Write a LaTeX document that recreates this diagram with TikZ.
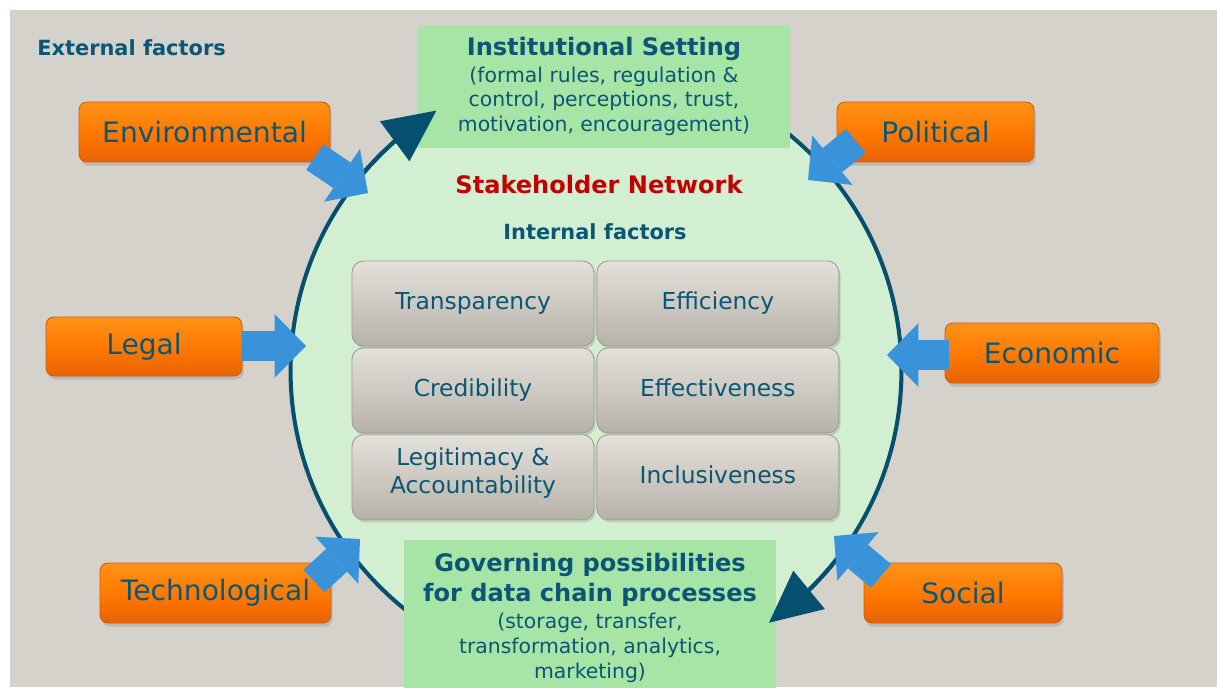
\documentclass[tikz,border=0pt]{standalone}
\usepackage{fontspec}
\setmainfont{DejaVu Sans}
\usetikzlibrary{positioning,shadows,arrows.meta,bending}

\definecolor{slate}{HTML}{D5D2CB}
\definecolor{ink}{HTML}{0C5675}
\definecolor{ring}{HTML}{05506F}
\definecolor{mint}{HTML}{D3EFD2}
\definecolor{leaf}{HTML}{A7E5A6}
\definecolor{tangerineTop}{HTML}{FF9318}
\definecolor{tangerineMid}{HTML}{FF7A00}
\definecolor{tangerineBot}{HTML}{E86204}
\definecolor{tangerineRim}{HTML}{CC5E0C}
\definecolor{stoneTop}{HTML}{E4E1DA}
\definecolor{stoneBot}{HTML}{B6B2AA}
\definecolor{stoneRim}{HTML}{A19D95}
\definecolor{sky}{HTML}{3893DA}
\definecolor{crimson}{HTML}{C00000}

\begin{document}
\begin{tikzpicture}
[x=0.02cm,y=-0.02cm,
factor/.style={rounded corners=4.5pt,top color=tangerineTop,bottom color=tangerineBot,middle color=tangerineMid,
  draw=tangerineRim,line width=.5pt,text=ink,font=\fontsize{16}{19}\selectfont,minimum height=1.2cm,
  drop shadow={shadow xshift=1pt,shadow yshift=-2pt,opacity=.3}},
inner/.style={rounded corners=6.5pt,top color=stoneTop,bottom color=stoneBot,draw=stoneRim,line width=.5pt,
  text=ink,font=\fontsize{13.3}{15.9}\selectfont,align=center,minimum width=4.84cm,minimum height=1.7cm,
  text height=.7em,text depth=0em,
  drop shadow={shadow xshift=1pt,shadow yshift=-1.5pt,opacity=.3}},
setting/.style={fill=leaf,text=ink,align=center,minimum width=7.44cm,font=\fontsize{11.6}{14.1}\selectfont},
title/.style={font=\bfseries\fontsize{11.9}{14}\selectfont,text=ink,inner sep=0pt},
push/.style={draw=sky,line width=17.6pt,-{Triangle[length=17.9pt,width=36.3pt,line width=0pt]}},
turn/.style={draw=ring,line width=2.3pt,-{Triangle[length=29.5pt,width=28.3pt,line width=0pt,flex]}}]
\useasboundingbox (0,0) rectangle (1217,687);
\fill[slate] (10,10) rectangle (1217,687);
\node (external) [title,anchor=base west] at (37,55) {External factors};
%% stakeholder network
\node (network) [circle,fill=mint,draw=ring,line width=2.3pt,outer sep=0pt,minimum size=12.22cm] at (596,371) {};
\node (stakeholder) [anchor=base,text=crimson,font=\bfseries\fontsize{13.7}{16}\selectfont] at (599,193) {Stakeholder Network};
\node (internal) [title,anchor=base] at (595,239) {Internal factors};
%% internal factors
\node (transparency) [inner] at (473,303.5) {Transparency};
\node (efficiency) [inner,right=0.04cm of transparency] {Efficiency};
\node (credibility) [inner,below=0.02cm of transparency] {Credibility};
\node (effectiveness) [inner,below=0.02cm of efficiency] {Effectiveness};
\node (legitimacy) [inner,below=0.02cm of credibility,text height=2.13em,text depth=.24em] {Legitimacy \&\\Accountability};
\node (inclusiveness) [inner,below=0.02cm of effectiveness] {Inclusiveness};
%% settings
\node (institutional) [setting,minimum height=2.46cm] at (604,86.5) {{\bfseries\fontsize{13.7}{17}\selectfont Institutional Setting}\\[1pt](formal rules, regulation \&\\control, perceptions, trust,\\motivation, encouragement)};
\node (governing) [setting,minimum height=3.12cm] at (590,618) {{\bfseries\fontsize{13.7}{17}\selectfont Governing possibilities}\\[2.9pt]{\bfseries\fontsize{13.7}{17}\selectfont for data chain processes}\\[1.3pt](storage, transfer,\\transformation, analytics,\\marketing)};
%%
\draw[turn] (network.140) arc[start angle=140,end angle=121.5,radius=6.11cm];
\draw[turn] (network.-38) arc[start angle=-38,end angle=-55.5,radius=6.11cm];
%% external factors
\node (environmental) [factor,minimum width=5.02cm] at (204.5,132) {Environmental};
\node (political) [factor,minimum width=3.94cm] at (935.5,132) {Political};
\node (legal) [factor,minimum width=3.92cm,minimum height=1.18cm] at (144,346.5) {Legal};
\node (economic) [factor,minimum width=4.28cm] at (1052,353) {Economic};
\node (technological) [factor,minimum width=4.62cm] at (215.5,593) {Technological};
\node (social) [factor,minimum width=3.96cm] at (963,593) {Social};
%%
\coordinate (envOut) at (315,157);   \coordinate (envIn) at (368,193);
\coordinate (polOut) at (856,141);   \coordinate (polIn) at (808,180);
\coordinate (legOut) at (242,346);   \coordinate (legIn) at (306,346);
\coordinate (ecoOut) at (949,355);   \coordinate (ecoIn) at (887,355);
\coordinate (techOut) at (314,581);  \coordinate (techIn) at (360,539);
\coordinate (socOut) at (881,576);   \coordinate (socIn) at (834,536);
\draw[push] (envOut) -- (envIn);
\draw[push] (polOut) -- (polIn);
\draw[push] (legOut) -- (legIn);
\draw[push] (ecoOut) -- (ecoIn);
\draw[push] (techOut) -- (techIn);
\draw[push] (socOut) -- (socIn);
\end{tikzpicture}
\end{document}
